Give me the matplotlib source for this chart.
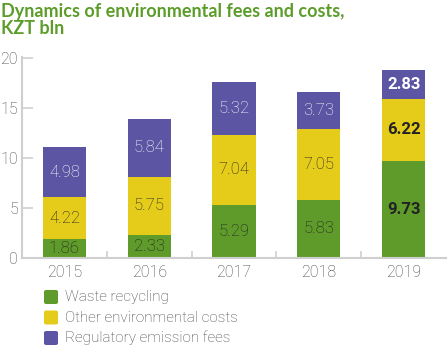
import numpy as np
import matplotlib.pyplot as plt
from matplotlib.patches import FancyBboxPatch

years = ["2015", "2016", "2017", "2018", "2019"]
waste = [1.86, 2.33, 5.29, 5.83, 9.73]
other = [4.22, 5.75, 7.04, 7.05, 6.22]
fees = [4.98, 5.84, 5.32, 3.73, 2.83]
series_names = ["Waste recycling", "Other environmental costs", "Regulatory emission fees"]

GREEN = "#5f9b2b"
YELLOW = "#e5cb1a"
PURPLE = "#5b55a3"
GRID = "#cfcfcf"
TXT = "#444444"

plt.rcParams['font.family'] = ['Roboto', 'DejaVu Sans']

fig = plt.figure(figsize=(4.48, 3.46), dpi=100)
W, H = 448, 346
ax = fig.add_axes([22 / W, 1 - 258 / H, 424 / W, 201 / H])

x = np.arange(len(years))
w = 0.51
ax.bar(x, waste, w, color=GREEN)
ax.bar(x, other, w, bottom=waste, color=YELLOW)
bottom2 = np.array(waste) + np.array(other)
ax.bar(x, fees, w, bottom=bottom2, color=PURPLE)

for i in range(len(years)):
    bold = i == len(years) - 1
    weight = 'bold' if bold else 'light'
    ax.text(x[i], waste[i] / 2, f"{waste[i]:.2f}", ha='center', va='center',
            fontsize=12, color='#222222', fontweight=weight)
    ax.text(x[i], waste[i] + other[i] / 2, f"{other[i]:.2f}", ha='center', va='center',
            fontsize=12, color='#222222', fontweight=weight)
    ax.text(x[i], bottom2[i] + fees[i] / 2, f"{fees[i]:.2f}", ha='center', va='center',
            fontsize=12, color='white', fontweight=weight)

ax.set_xlim(-0.5, len(years) - 0.5)
ax.set_ylim(0, 20.1)
ax.set_yticks([0, 5, 10, 15, 20])
ax.set_xticks(x)
ax.set_xticklabels(years)
ax.set_xticks(np.arange(0.5, len(years) - 0.5, 1), minor=True)

for s in ['top', 'right']:
    ax.spines[s].set_visible(False)
for s in ['left', 'bottom']:
    ax.spines[s].set_color(GRID)
    ax.spines[s].set_linewidth(1.5)

ax.tick_params(axis='y', direction='in', length=8, width=1.2, color=GRID,
               labelsize=11.5, labelcolor=TXT, pad=3)
ax.tick_params(axis='x', which='major', length=0, labelsize=11.5, labelcolor=TXT, pad=5)
ax.tick_params(axis='x', which='minor', direction='in', length=5, width=1.2, color=GRID)
for lab in ax.get_xticklabels() + ax.get_yticklabels():
    lab.set_fontweight('light')

fig.text(1 / W, 1 - 3 / H, "Dynamics of environmental fees and costs,\nKZT bln",
         ha='left', va='top', fontsize=13, color="#5c9d2a", fontweight='bold',
         family=['Lato', 'DejaVu Sans'], linespacing=1.0)

# legend
for k, (name, col) in enumerate(zip(series_names, [GREEN, YELLOW, PURPLE])):
    yc = 297 + k * 20.5
    sq = FancyBboxPatch((44 / W, 1 - (yc + 7) / H), 14 / W, 14 / H,
                        boxstyle="round,pad=0,rounding_size=0.005",
                        transform=fig.transFigure, color=col, lw=0)
    fig.patches.append(sq)
    fig.text(65 / W, 1 - yc / H, name, ha='left', va='center', fontsize=11,
             color=TXT, fontweight='light')

fig.savefig("out.png", dpi=100)
